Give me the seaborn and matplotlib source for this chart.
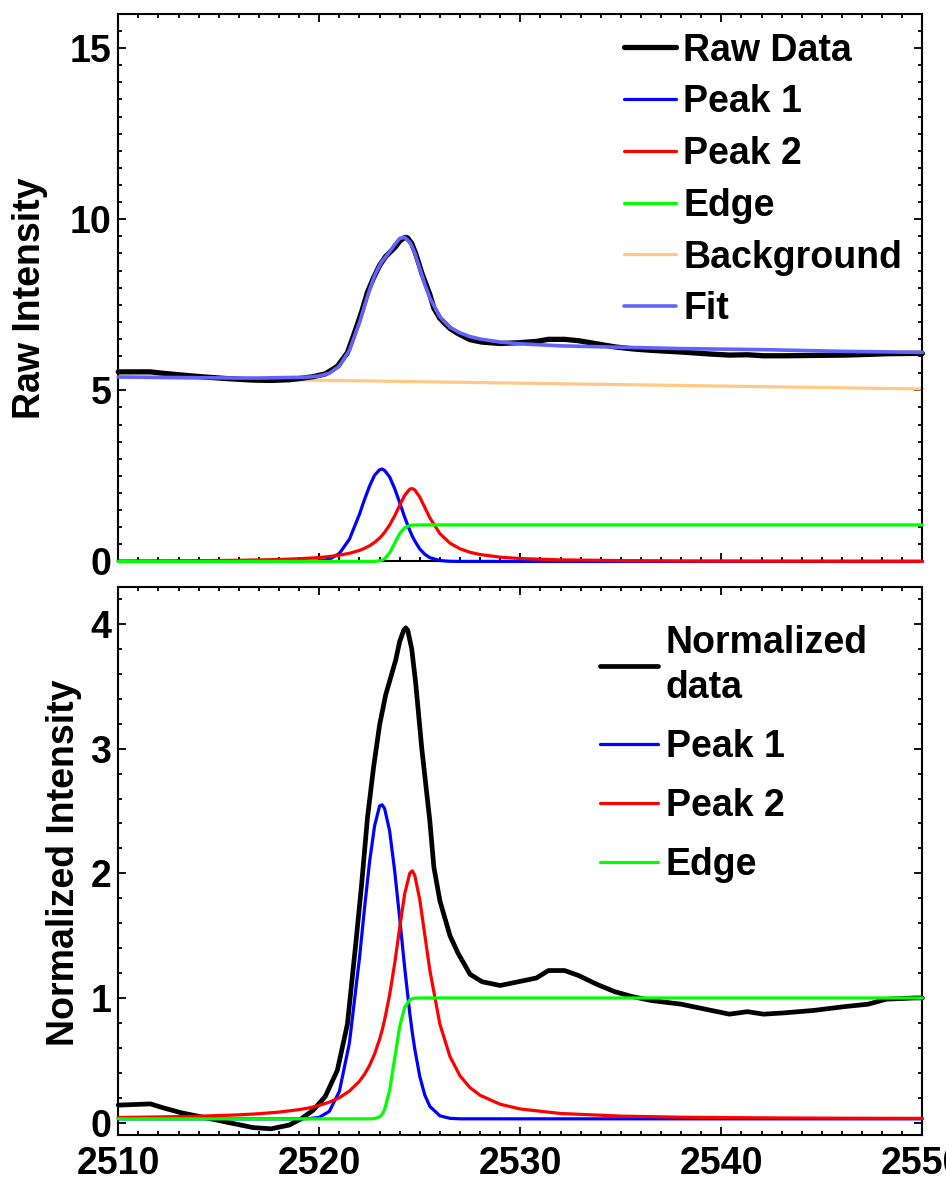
import matplotlib
matplotlib.use("Agg")
import matplotlib.pyplot as plt
from matplotlib.ticker import MultipleLocator
import seaborn as sns

# ---------------- data ----------------
energy_comp = [2510, 2512, 2514, 2516, 2517, 2518, 2519, 2519.5, 2520, 2520.5,
               2521, 2521.5, 2522, 2522.25, 2522.5, 2522.75, 2523, 2523.125, 2523.25,
               2523.5, 2523.75, 2524, 2524.25, 2524.5, 2524.625, 2524.75, 2525, 2525.25,
               2525.5, 2526, 2526.5, 2527, 2527.5, 2528, 2529, 2530, 2532,
               2535, 2538, 2542, 2546, 2550]

# top panel (raw intensity) components
raw_peak1 = [0, 0, 0, 0, 0, 0, 0, 0.002, 0.013, 0.064,
             0.234, 0.65, 1.38, 1.81, 2.20, 2.52, 2.68, 2.70, 2.66,
             2.47, 2.13, 1.72, 1.29, 0.91, 0.743, 0.60, 0.365, 0.209,
             0.111, 0.026, 0.004, 0, 0, 0, 0, 0, 0,
             0, 0, 0, 0, 0]
raw_peak2 = [0.012, 0.016, 0.023, 0.034, 0.044, 0.058, 0.079, 0.095, 0.115, 0.143,
             0.182, 0.238, 0.323, 0.383, 0.458, 0.556, 0.684, 0.761, 0.850,
             1.065, 1.333, 1.641, 1.933, 2.112, 2.13, 2.091, 1.881, 1.578,
             1.275, 0.813, 0.535, 0.369, 0.268, 0.202, 0.125, 0.085, 0.046,
             0.024, 0.014, 0.0085, 0.0056, 0.004]
raw_edge = [0, 0, 0, 0, 0, 0, 0, 0, 0, 0,
            0, 0, 0, 0, 0, 0.002, 0.018, 0.040, 0.081,
            0.253, 0.534, 0.814, 0.986, 1.049, 1.061, 1.064, 1.067, 1.067,
            1.067, 1.067, 1.067, 1.067, 1.067, 1.067, 1.067, 1.067, 1.067,
            1.067, 1.067, 1.067, 1.067, 1.067]
raw_fit = [5.39, 5.38, 5.37, 5.36, 5.36, 5.37, 5.38, 5.39, 5.42, 5.50,
           5.71, 6.17, 6.98, 7.47, 7.93, 8.35, 8.65, 8.77, 8.86,
           9.05, 9.26, 9.44, 9.47, 9.33, 9.19, 9.01, 8.56, 8.10,
           7.70, 7.15, 6.84, 6.68, 6.57, 6.50, 6.41, 6.36, 6.30,
           6.26, 6.22, 6.19, 6.14, 6.11]

bg_energy = [2510, 2550]
background = [5.38, 5.04]

# bottom panel (normalized) components
norm_peak1 = [0.03, 0.03, 0.03, 0.03, 0.03, 0.03, 0.03, 0.032, 0.042, 0.09,
              0.25, 0.64, 1.32, 1.72, 2.09, 2.38, 2.54, 2.55, 2.52,
              2.34, 2.02, 1.64, 1.24, 0.88, 0.725, 0.59, 0.37, 0.22,
              0.13, 0.054, 0.034, 0.03, 0.03, 0.03, 0.03, 0.03, 0.03,
              0.03, 0.03, 0.03, 0.03, 0.03]
norm_peak2 = [0.041, 0.045, 0.051, 0.062, 0.071, 0.084, 0.104, 0.118, 0.138, 0.164,
              0.20, 0.253, 0.332, 0.388, 0.458, 0.55, 0.669, 0.741, 0.824,
              1.025, 1.276, 1.564, 1.837, 2.00, 2.02, 1.984, 1.788, 1.505,
              1.222, 0.79, 0.53, 0.375, 0.28, 0.219, 0.147, 0.109, 0.073,
              0.052, 0.043, 0.038, 0.035, 0.034]
norm_edge = [0.03, 0.03, 0.03, 0.03, 0.03, 0.03, 0.03, 0.03, 0.03, 0.03,
             0.03, 0.03, 0.03, 0.03, 0.03, 0.032, 0.046, 0.066, 0.104,
             0.26, 0.515, 0.77, 0.926, 0.984, 0.994, 0.998, 1.0, 1.0,
             1.0, 1.0, 1.0, 1.0, 1.0, 1.0, 1.0, 1.0, 1.0,
             1.0, 1.0, 1.0, 1.0, 1.0]

# measured data
energy_data = [2510.0, 2510.8, 2511.6, 2512.2, 2513.1, 2514.3, 2515.5, 2516.7, 2517.6,
               2518.5, 2519.1, 2519.7, 2520.3, 2520.9, 2521.4, 2521.8, 2522.1, 2522.4,
               2522.7, 2523.0, 2523.3, 2523.8, 2524.0, 2524.2, 2524.3, 2524.4, 2524.6,
               2524.8, 2525.1, 2525.5, 2525.7, 2526.0, 2526.5, 2526.9, 2527.5, 2528.1,
               2529.0, 2529.9, 2530.8, 2531.4, 2532.2, 2532.9, 2533.8, 2534.7, 2535.6,
               2536.5, 2538.0, 2539.5, 2540.4, 2541.3, 2542.1, 2543.1, 2544.6, 2546.1,
               2547.3, 2548.2, 2549.6, 2550.0]
raw_data = [5.54, 5.54, 5.54, 5.50, 5.45, 5.39, 5.34, 5.30, 5.29,
            5.31, 5.35, 5.40, 5.48, 5.70, 6.10, 6.76, 7.28, 7.87,
            8.29, 8.65, 8.91, 9.20, 9.36, 9.45, 9.47, 9.45, 9.29,
            8.99, 8.43, 7.80, 7.40, 7.10, 6.81, 6.66, 6.48, 6.41,
            6.37, 6.39, 6.43, 6.49, 6.49, 6.45, 6.36, 6.27, 6.21,
            6.17, 6.12, 6.06, 6.03, 6.04, 6.01, 6.01, 6.02, 6.03,
            6.05, 6.07, 6.08, 6.08]
norm_data = [0.14, 0.145, 0.15, 0.12, 0.08, 0.04, 0.0, -0.04, -0.05,
             -0.02, 0.03, 0.10, 0.21, 0.42, 0.79, 1.41, 1.90, 2.45,
             2.85, 3.19, 3.43, 3.71, 3.86, 3.95, 3.97, 3.95, 3.80,
             3.52, 3.00, 2.42, 2.05, 1.78, 1.50, 1.36, 1.19, 1.13,
             1.10, 1.13, 1.16, 1.22, 1.22, 1.18, 1.11, 1.05, 1.01,
             0.98, 0.95, 0.90, 0.87, 0.89, 0.87, 0.88, 0.90, 0.93,
             0.95, 0.99, 1.00, 1.00]

top_yticks = [0, 5, 10, 15]
bottom_yticks = [0, 1, 2, 3, 4]
xticks = [2510, 2520, 2530, 2540, 2550]

# ---------------- style ----------------
sns.set_theme(style="ticks")
plt.rcParams["font.family"] = ["Liberation Sans", "DejaVu Sans"]
plt.rcParams["font.weight"] = "bold"
plt.rcParams["axes.labelweight"] = "bold"
for key in ("text.color", "axes.labelcolor", "xtick.color", "ytick.color",
            "axes.edgecolor"):
    plt.rcParams[key] = "black"

C_RAW = "black"
C_P1 = "#0000ff"
C_P2 = "#ff0000"
C_EDGE = "#00ff00"
C_BG = "#ffc985"
C_FIT = "#6262ff"

FS = 27

fig = plt.figure(figsize=(9.46, 11.8), dpi=100)
ax1 = fig.add_axes([0.125, 0.5242, 0.850, 0.464])
ax2 = fig.add_axes([0.125, 0.0381, 0.850, 0.4647])

kw = dict(estimator=None, sort=False, clip_on=False)

# ---- top panel ----
sns.lineplot(x=energy_data, y=raw_data, color=C_RAW, linewidth=3.8, label="Raw Data", ax=ax1, zorder=3, **kw)
sns.lineplot(x=energy_comp, y=raw_peak1, color=C_P1, linewidth=2.3, label="Peak 1", ax=ax1, zorder=4, **kw)
sns.lineplot(x=energy_comp, y=raw_peak2, color=C_P2, linewidth=2.3, label="Peak 2", ax=ax1, zorder=4, **kw)
sns.lineplot(x=energy_comp, y=raw_edge, color=C_EDGE, linewidth=2.3, label="Edge", ax=ax1, zorder=4, **kw)
sns.lineplot(x=bg_energy, y=background, color=C_BG, linewidth=2.3, label="Background", ax=ax1, zorder=2, **kw)
sns.lineplot(x=energy_comp, y=raw_fit, color=C_FIT, linewidth=2.6, label="Fit", ax=ax1, zorder=5, **kw)

# ---- bottom panel ----
sns.lineplot(x=energy_data, y=norm_data, color=C_RAW, linewidth=3.4, label="Normalized\ndata", ax=ax2, zorder=3, **kw)
sns.lineplot(x=energy_comp, y=norm_peak1, color=C_P1, linewidth=2.3, label="Peak 1", ax=ax2, zorder=4, **kw)
sns.lineplot(x=energy_comp, y=norm_peak2, color=C_P2, linewidth=2.3, label="Peak 2", ax=ax2, zorder=4, **kw)
sns.lineplot(x=energy_comp, y=norm_edge, color=C_EDGE, linewidth=2.3, label="Edge", ax=ax2, zorder=4, **kw)

for ax in (ax1, ax2):
    ax.set_xlim(2510, 2550)
    ax.set_xticks(xticks)
    ax.xaxis.set_minor_locator(MultipleLocator(1))
    ax.tick_params(which="both", direction="in", top=True, right=True,
                   width=1.3, labelsize=FS, color="black", labelcolor="black")
    ax.tick_params(which="major", length=5.5)
    ax.tick_params(which="minor", length=3)
    ax.tick_params(axis="y", pad=5)
    ax.tick_params(axis="x", pad=8)
    for s in ax.spines.values():
        s.set_linewidth(1.5)
        s.set_color("black")
    ax.set_xlabel("")
    for lab in ax.get_xticklabels() + ax.get_yticklabels():
        lab.set_fontweight("bold")

ax1.set_ylim(0, 16)
ax1.set_yticks(top_yticks)
ax1.yaxis.set_minor_locator(MultipleLocator(0.5))
ax1.tick_params(axis="x", labelbottom=False)
ax1.set_ylabel("Raw Intensity", fontsize=FS, fontweight="bold", va="center", color="black")
ax1.yaxis.set_label_coords(-0.110, 0.48)

ax2.set_ylim(-0.1, 4.3)
ax2.set_yticks(bottom_yticks)
ax2.yaxis.set_minor_locator(MultipleLocator(0.2))
ax2.set_ylabel("Normalized Intensity", fontsize=FS, fontweight="bold", va="center", color="black")
ax2.yaxis.set_label_coords(-0.0675, 0.496)

leg1 = ax1.legend(loc="upper left", bbox_to_anchor=(0.629, 0.966), frameon=False,
                  fontsize=FS, handlelength=1.39, handletextpad=0.19,
                  labelspacing=0.42, borderpad=0, borderaxespad=0)
leg2 = ax2.legend(loc="upper left", bbox_to_anchor=(0.599, 0.930), frameon=False,
                  fontsize=FS, handlelength=1.55, handletextpad=0.21,
                  labelspacing=0.61, borderpad=0, borderaxespad=0)
for leg in (leg1, leg2):
    for t in leg.get_texts():
        t.set_fontweight("bold")
        t.set_color("black")
for t in leg2.get_texts():
    t.set_linespacing(1.32)

fig.savefig("out.png", dpi=100)
